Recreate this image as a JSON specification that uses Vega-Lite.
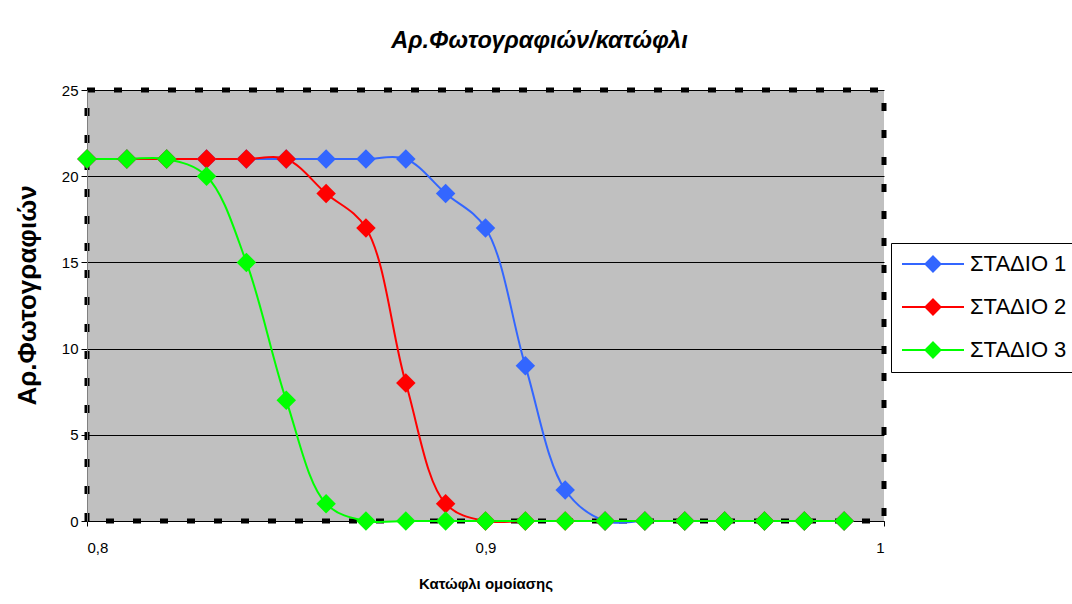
{
  "$schema": "https://vega.github.io/schema/vega-lite/v6.json",
  "width": 797,
  "height": 431,
  "autosize": {"type": "none"},
  "padding": {"left": 87, "top": 90, "right": 188, "bottom": 83},
  "background": "white",
  "title": {
    "text": "Αρ.Φωτογραφιών/κατώφλι",
    "font": "Liberation Sans",
    "fontSize": 23.5,
    "fontStyle": "italic",
    "fontWeight": "bold",
    "color": "black",
    "anchor": "middle",
    "dx": 54,
    "baseline": "alphabetic",
    "offset": 12
  },
  "data": {
    "values": [
      {"k": 0.80, "n": 21, "s": "ΣΤΑΔΙΟ 1"}, {"k": 0.81, "n": 21, "s": "ΣΤΑΔΙΟ 1"},
      {"k": 0.82, "n": 21, "s": "ΣΤΑΔΙΟ 1"}, {"k": 0.83, "n": 21, "s": "ΣΤΑΔΙΟ 1"},
      {"k": 0.84, "n": 21, "s": "ΣΤΑΔΙΟ 1"}, {"k": 0.85, "n": 21, "s": "ΣΤΑΔΙΟ 1"},
      {"k": 0.86, "n": 21, "s": "ΣΤΑΔΙΟ 1"}, {"k": 0.87, "n": 21, "s": "ΣΤΑΔΙΟ 1"},
      {"k": 0.88, "n": 21, "s": "ΣΤΑΔΙΟ 1"}, {"k": 0.89, "n": 19, "s": "ΣΤΑΔΙΟ 1"},
      {"k": 0.90, "n": 17, "s": "ΣΤΑΔΙΟ 1"}, {"k": 0.91, "n": 9, "s": "ΣΤΑΔΙΟ 1"},
      {"k": 0.92, "n": 1.8, "s": "ΣΤΑΔΙΟ 1"}, {"k": 0.93, "n": 0, "s": "ΣΤΑΔΙΟ 1"},
      {"k": 0.94, "n": 0, "s": "ΣΤΑΔΙΟ 1"}, {"k": 0.95, "n": 0, "s": "ΣΤΑΔΙΟ 1"},
      {"k": 0.96, "n": 0, "s": "ΣΤΑΔΙΟ 1"}, {"k": 0.97, "n": 0, "s": "ΣΤΑΔΙΟ 1"},
      {"k": 0.98, "n": 0, "s": "ΣΤΑΔΙΟ 1"}, {"k": 0.99, "n": 0, "s": "ΣΤΑΔΙΟ 1"},

      {"k": 0.80, "n": 21, "s": "ΣΤΑΔΙΟ 2"}, {"k": 0.81, "n": 21, "s": "ΣΤΑΔΙΟ 2"},
      {"k": 0.82, "n": 21, "s": "ΣΤΑΔΙΟ 2"}, {"k": 0.83, "n": 21, "s": "ΣΤΑΔΙΟ 2"},
      {"k": 0.84, "n": 21, "s": "ΣΤΑΔΙΟ 2"}, {"k": 0.85, "n": 21, "s": "ΣΤΑΔΙΟ 2"},
      {"k": 0.86, "n": 19, "s": "ΣΤΑΔΙΟ 2"}, {"k": 0.87, "n": 17, "s": "ΣΤΑΔΙΟ 2"},
      {"k": 0.88, "n": 8, "s": "ΣΤΑΔΙΟ 2"}, {"k": 0.89, "n": 1, "s": "ΣΤΑΔΙΟ 2"},
      {"k": 0.90, "n": 0, "s": "ΣΤΑΔΙΟ 2"}, {"k": 0.91, "n": 0, "s": "ΣΤΑΔΙΟ 2"},
      {"k": 0.92, "n": 0, "s": "ΣΤΑΔΙΟ 2"}, {"k": 0.93, "n": 0, "s": "ΣΤΑΔΙΟ 2"},
      {"k": 0.94, "n": 0, "s": "ΣΤΑΔΙΟ 2"}, {"k": 0.95, "n": 0, "s": "ΣΤΑΔΙΟ 2"},
      {"k": 0.96, "n": 0, "s": "ΣΤΑΔΙΟ 2"}, {"k": 0.97, "n": 0, "s": "ΣΤΑΔΙΟ 2"},
      {"k": 0.98, "n": 0, "s": "ΣΤΑΔΙΟ 2"}, {"k": 0.99, "n": 0, "s": "ΣΤΑΔΙΟ 2"},

      {"k": 0.80, "n": 21, "s": "ΣΤΑΔΙΟ 3"}, {"k": 0.81, "n": 21, "s": "ΣΤΑΔΙΟ 3"},
      {"k": 0.82, "n": 21, "s": "ΣΤΑΔΙΟ 3"}, {"k": 0.83, "n": 20, "s": "ΣΤΑΔΙΟ 3"},
      {"k": 0.84, "n": 15, "s": "ΣΤΑΔΙΟ 3"}, {"k": 0.85, "n": 7, "s": "ΣΤΑΔΙΟ 3"},
      {"k": 0.86, "n": 1, "s": "ΣΤΑΔΙΟ 3"}, {"k": 0.87, "n": 0, "s": "ΣΤΑΔΙΟ 3"},
      {"k": 0.88, "n": 0, "s": "ΣΤΑΔΙΟ 3"}, {"k": 0.89, "n": 0, "s": "ΣΤΑΔΙΟ 3"},
      {"k": 0.90, "n": 0, "s": "ΣΤΑΔΙΟ 3"}, {"k": 0.91, "n": 0, "s": "ΣΤΑΔΙΟ 3"},
      {"k": 0.92, "n": 0, "s": "ΣΤΑΔΙΟ 3"}, {"k": 0.93, "n": 0, "s": "ΣΤΑΔΙΟ 3"},
      {"k": 0.94, "n": 0, "s": "ΣΤΑΔΙΟ 3"}, {"k": 0.95, "n": 0, "s": "ΣΤΑΔΙΟ 3"},
      {"k": 0.96, "n": 0, "s": "ΣΤΑΔΙΟ 3"}, {"k": 0.97, "n": 0, "s": "ΣΤΑΔΙΟ 3"},
      {"k": 0.98, "n": 0, "s": "ΣΤΑΔΙΟ 3"}, {"k": 0.99, "n": 0, "s": "ΣΤΑΔΙΟ 3"}
    ]
  },
  "encoding": {
    "x": {
      "field": "k",
      "type": "quantitative",
      "scale": {"domain": [0.8, 1], "nice": false, "zero": false},
      "axis": {
        "title": "Κατώφλι ομοίασης",
        "values": [0.8, 0.9, 1],
        "format": "~g",
        "labelExpr": "replace(datum.label, '.', ',')",
        "grid": false,
        "domain": true,
        "domainColor": "black",
        "domainWidth": 1,
        "ticks": true,
        "tickSize": 5,
        "tickColor": "black",
        "labelFont": "Liberation Sans",
        "labelFontSize": 15,
        "labelColor": "black",
        "labelPadding": 14,
        "titleFont": "Liberation Sans",
        "titleFontSize": 15,
        "titleFontWeight": "bold",
        "titleColor": "black",
        "titleBaseline": "middle",
        "titleY": 62
      }
    },
    "y": {
      "field": "n",
      "type": "quantitative",
      "scale": {"domain": [0, 25], "nice": false},
      "axis": {
        "title": "Αρ.Φωτογραφιών",
        "values": [0, 5, 10, 15, 20, 25],
        "grid": true,
        "gridColor": "black",
        "gridWidth": 1,
        "gridOpacity": 1,
        "domain": true,
        "domainColor": "#808080",
        "ticks": true,
        "tickSize": 6,
        "tickColor": "black",
        "labelFont": "Liberation Sans",
        "labelFontSize": 15,
        "labelColor": "black",
        "labelPadding": 3,
        "titleFont": "Liberation Sans",
        "titleFontSize": 26,
        "titleFontWeight": "bold",
        "titleColor": "black",
        "titleAngle": -90,
        "titleBaseline": "middle",
        "titleAlign": "center",
        "titleX": -60,
        "titleY": 205
      }
    },
    "color": {
      "field": "s",
      "type": "nominal",
      "scale": {
        "domain": ["ΣΤΑΔΙΟ 1", "ΣΤΑΔΙΟ 2", "ΣΤΑΔΙΟ 3"],
        "range": ["#3366FF", "#FF0000", "#00FF00"]
      },
      "legend": {
        "title": null,
        "orient": "none",
        "legendX": 804,
        "legendY": 153,
        "padding": 10,
        "strokeColor": "black",
        "fillColor": "white",
        "symbolType": "M-3.1,0H3.1M0,-0.75L0.75,0L0,0.75L-0.75,0Z",
        "symbolSize": 400,
        "symbolStrokeWidth": 2,
        "symbolOpacity": 1,
        "symbolOffset": 21,
        "labelFont": "Liberation Sans",
        "labelFontSize": 22,
        "labelColor": "black",
        "labelOffset": 26,
        "labelLimit": 300,
        "rowPadding": 19,
        "encode": {
          "symbols": {
            "update": {
              "fill": {"scale": "color", "field": "value"},
              "stroke": {"scale": "color", "field": "value"},
              "opacity": {"value": 1}
            }
          }
        }
      }
    }
  },
  "layer": [
    {
      "mark": {"type": "line", "interpolate": "catmull-rom", "strokeWidth": 2}
    },
    {
      "mark": {
        "type": "point",
        "shape": "diamond",
        "filled": true,
        "size": 380,
        "opacity": 1
      }
    }
  ],
  "config": {
    "view": {
      "fill": "#C0C0C0",
      "stroke": "black",
      "strokeWidth": 5,
      "strokeDash": [8, 19]
    }
  }
}
